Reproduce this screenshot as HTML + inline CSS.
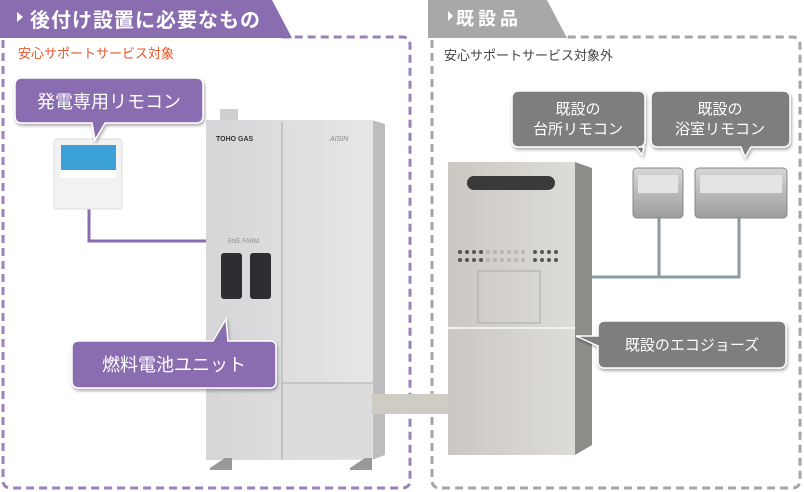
<!DOCTYPE html>
<html><head><meta charset="utf-8"><style>
body{margin:0;background:#fff}
svg{display:block}
text{font-family:"Liberation Sans","Noto Sans CJK JP",sans-serif}
</style></head><body>
<svg width="804" height="492" viewBox="0 0 804 492" xmlns="http://www.w3.org/2000/svg">
<defs>
<linearGradient id="fc" x1="0" x2="1"><stop offset="0" stop-color="#d6d6d9"/><stop offset="1" stop-color="#e6e6e8"/></linearGradient>
<linearGradient id="eco" x1="0" x2="1"><stop offset="0" stop-color="#cbc8c3"/><stop offset="1" stop-color="#dedcd8"/></linearGradient>
<linearGradient id="rm" x1="0" y1="0" x2="0" y2="1"><stop offset="0" stop-color="#d6d6d4"/><stop offset="1" stop-color="#9d9d9b"/></linearGradient>
<filter id="sh" x="-10%" y="-10%" width="130%" height="140%"><feDropShadow dx="1" dy="2" stdDeviation="1.5" flood-opacity="0.35"/></filter>
</defs>
<!-- left dashed box -->
<path d="M3 40 V480 Q3 488 11 488 H402 Q410 488 410 480 V45 Q410 37 402 37 H280" fill="none" stroke="#9b82bd" stroke-width="3" stroke-dasharray="8 5"/>
<polygon points="0,0 272,0 292,38 0,38" fill="#8a6db0"/>
<polygon points="17,12 23,17 17,22" fill="#fff"/>
<text x="30" y="27" font-size="20" font-weight="bold" fill="#fff" letter-spacing="1">後付け設置に必要なもの</text>
<text x="18" y="58" font-size="13" fill="#e8562a">安心サポートサービス対象</text>
<!-- right dashed box -->
<path d="M432 40 V480 Q432 488 440 488 H792 Q800 488 800 480 V45 Q800 37 792 37 H565" fill="none" stroke="#a6a6a6" stroke-width="3" stroke-dasharray="8 5"/>
<polygon points="428,0 547,0 567,38 428,38" fill="#a8a8a8"/>
<polygon points="448,11 453,16 448,21" fill="#fff"/>
<text x="456" y="25" font-size="18" font-weight="bold" fill="#fff" letter-spacing="4">既設品</text>
<text x="444" y="60" font-size="13" fill="#444">安心サポートサービス対象外</text>
<!-- purple line -->
<polyline points="89,208 89,241 206,241" fill="none" stroke="#8a6db0" stroke-width="3"/>
<!-- remote -->
<rect x="54" y="139" width="68" height="70" rx="3" fill="#f2f2f2" stroke="#ddd"/>
<rect x="61" y="145" width="55" height="32" fill="#3aa0d6"/>
<rect x="61" y="170" width="55" height="8" fill="#fff"/>
<!-- fuel cell -->
<rect x="220" y="109" width="18" height="11" fill="#cfcfcf"/>
<polygon points="372,120 385,124 385,455 372,460" fill="#bdbdc0"/>
<rect x="206" y="120" width="167" height="340" fill="url(#fc)"/>
<line x1="282" y1="122" x2="282" y2="460" stroke="#a9a9ac"/>
<line x1="282" y1="383" x2="373" y2="383" stroke="#aaa"/>
<rect x="283" y="384" width="89" height="75" fill="#dcdcdd"/>
<rect x="221" y="253" width="21" height="46" rx="3" fill="#2e2e32"/>
<rect x="250" y="253" width="21" height="46" rx="3" fill="#2e2e32"/>
<text x="216" y="141" font-size="7" font-weight="bold" fill="#333">TOHO GAS</text>
<text x="330" y="141" font-size="7" font-style="italic" fill="#888">AISIN</text>
<text x="228" y="243" font-size="6" fill="#888">ENE·FARM</text>
<polygon points="210,468 225,458 232,458 232,470 210,470" fill="#999"/>
<polygon points="350,468 365,458 372,458 372,470 350,470" fill="#999"/>
<!-- pipe -->
<rect x="372" y="394" width="78" height="20" fill="#cfccc6"/>
<!-- eco jozu -->
<polygon points="575,162 592,168 592,445 575,455" fill="#8f8d8a"/>
<rect x="448" y="162" width="127" height="293" fill="url(#eco)"/>
<line x1="448" y1="328" x2="575" y2="328" stroke="#f0f0f0" stroke-width="2"/>
<rect x="467" y="176" width="88" height="14" rx="7" fill="#3a3a3a"/>
<g fill="#555">
<circle cx="460" cy="252" r="2"/><circle cx="467" cy="252" r="2"/><circle cx="474" cy="252" r="2"/><circle cx="481" cy="252" r="2"/>
<circle cx="535" cy="252" r="2"/><circle cx="542" cy="252" r="2"/><circle cx="549" cy="252" r="2"/><circle cx="556" cy="252" r="2"/>
<circle cx="460" cy="260" r="2"/><circle cx="467" cy="260" r="2"/><circle cx="474" cy="260" r="2"/><circle cx="481" cy="260" r="2"/>
<circle cx="535" cy="260" r="2"/><circle cx="542" cy="260" r="2"/><circle cx="549" cy="260" r="2"/><circle cx="556" cy="260" r="2"/></g>
<g fill="#b8b6b2">
<circle cx="488" cy="252" r="2"/><circle cx="495" cy="252" r="2"/><circle cx="502" cy="252" r="2"/><circle cx="509" cy="252" r="2"/><circle cx="516" cy="252" r="2"/><circle cx="523" cy="252" r="2"/>
<circle cx="488" cy="260" r="2"/><circle cx="495" cy="260" r="2"/><circle cx="502" cy="260" r="2"/><circle cx="509" cy="260" r="2"/><circle cx="516" cy="260" r="2"/><circle cx="523" cy="260" r="2"/></g>
<rect x="478" y="271" width="62" height="52" fill="none" stroke="#aaa"/>
<!-- gray lines -->
<polyline points="592,277 739,277 739,218" fill="none" stroke="#8d9ba2" stroke-width="3"/>
<line x1="659" y1="218" x2="659" y2="277" stroke="#8d9ba2" stroke-width="3"/>
<!-- existing remotes -->
<rect x="633" y="168" width="50" height="50" rx="4" fill="url(#rm)" stroke="#888"/>
<rect x="638" y="175" width="40" height="18" fill="#e4e4e2"/>
<rect x="695" y="168" width="92" height="50" rx="4" fill="url(#rm)" stroke="#888"/>
<rect x="700" y="175" width="82" height="18" fill="#e4e4e2"/>
<!-- callouts -->
<g filter="url(#sh)">
<path d="M22 78 H196 Q203 78 203 85 V116 Q203 123 196 123 H105 L95 140 L92 123 H22 Q15 123 15 116 V85 Q15 78 22 78 Z" fill="#8a6db0" stroke="#fff" stroke-width="1.5"/>
<path d="M79 341 H213 L226 319 L228 341 H270 Q276 341 276 347 V381 Q276 388 270 388 H79 Q72 388 72 381 V347 Q72 341 79 341 Z" fill="#8a6db0" stroke="#fff" stroke-width="1.5"/>
<path d="M519 91 H638 Q645 91 645 98 V140 Q645 147 638 147 H644 L642 155 L636 147 H519 Q512 147 512 140 V98 Q512 91 519 91 Z" fill="#7e7e7e" stroke="#fff" stroke-width="1.5"/>
<path d="M658 91 H783 Q790 91 790 98 V140 Q790 147 783 147 H751 L745 157 L741 147 H658 Q651 147 651 140 V98 Q651 91 658 91 Z" fill="#7e7e7e" stroke="#fff" stroke-width="1.5"/>
<path d="M605 321 H779 Q786 321 786 328 V361 Q786 368 779 368 H605 Q598 368 598 361 V346 L576 336 L598 336 V328 Q598 321 605 321 Z" fill="#7e7e7e" stroke="#fff" stroke-width="1.5"/>
</g>
<text x="109" y="108" font-size="18" fill="#fff" text-anchor="middle">発電専用リモコン</text>
<text x="174" y="371" font-size="18" fill="#fff" text-anchor="middle">燃料電池ユニット</text>
<text x="578" y="114" font-size="15" fill="#fff" text-anchor="middle">既設の</text>
<text x="578" y="134" font-size="15" fill="#fff" text-anchor="middle">台所リモコン</text>
<text x="720" y="114" font-size="15" fill="#fff" text-anchor="middle">既設の</text>
<text x="720" y="134" font-size="15" fill="#fff" text-anchor="middle">浴室リモコン</text>
<text x="692" y="350" font-size="15" fill="#fff" text-anchor="middle">既設のエコジョーズ</text>
</svg>
</body></html>
